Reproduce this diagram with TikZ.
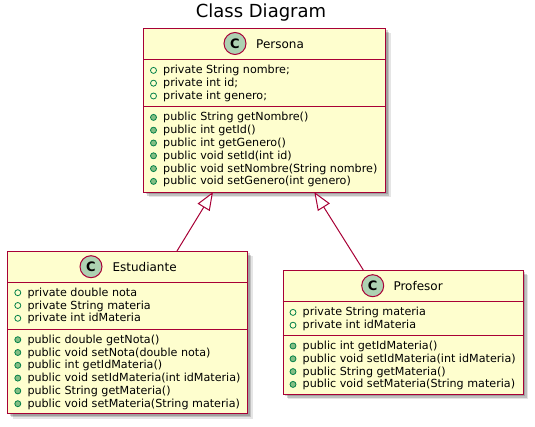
\documentclass[tikz,border=0pt]{standalone}
\usepackage{fontspec}
\setmainfont{DejaVu Sans}
\usetikzlibrary{arrows.meta,shadows}
\definecolor{umlred}{HTML}{A80036}
\definecolor{umlyellow}{HTML}{FEFECE}
\definecolor{badgegreen}{HTML}{ADD1B2}
\definecolor{mkgreen}{HTML}{038048}
\definecolor{mkfill}{HTML}{84BE84}
\tikzset{
  umlbox/.style={rectangle, draw=umlred, fill=umlyellow, line width=1pt, anchor=north west, inner sep=0pt,
    drop shadow={shadow xshift=2pt, shadow yshift=-2pt, opacity=0.16, fill=black},
    drop shadow={shadow xshift=3.5pt, shadow yshift=-3.5pt, opacity=0.16, fill=black},
    drop shadow={shadow xshift=5pt, shadow yshift=-5pt, opacity=0.10, fill=black}},
  sepline/.style={draw=umlred, line width=1pt},
  badge/.style={circle, draw=umlred, fill=badgegreen, line width=1pt, minimum size=22pt, inner sep=0pt, font=\bfseries\fontsize{13}{13}\selectfont},
  cname/.style={anchor=base west, inner sep=0pt, font=\fontsize{12}{14}\selectfont},
  memb/.style={anchor=base west, inner sep=0pt, font=\fontsize{11.15}{13}\selectfont},
  fieldmk/.style={circle, draw=mkgreen, line width=0.8pt, minimum size=6pt, inner sep=0pt},
  methmk/.style={fieldmk, fill=mkfill},
  inh/.style={draw=umlred, line width=1pt, -{Triangle[length=18pt, width=14pt, fill=white]}},
  ttl/.style={inner sep=0pt, anchor=base, font=\fontsize{18}{20}\selectfont}
}
\newcommand\umlfield[4]{\node[fieldmk] (#1m) at (#2,#3) {}; \node[memb] (#1) at (#2+9.5,#3+3.5) {#4};}
\newcommand\umlmeth[4]{\node[methmk] (#1m) at (#2,#3) {}; \node[memb] (#1) at (#2+9.5,#3+3.5) {#4};}
\begin{document}
\begin{tikzpicture}[x=1pt, y=-1pt]
\useasboundingbox[fill=white] (0,0) rectangle (535,427);

\node[ttl] (title) at (261,17.3) {Class Diagram};

% ---------------- Persona
\node[umlbox, minimum width=242pt, minimum height=164pt] (persona) at (143,28) {};
\draw[sepline] ([yshift=-32pt]persona.north west) -- ([yshift=-32pt]persona.north east);
\draw[sepline] ([yshift=-79pt]persona.north west) -- ([yshift=-79pt]persona.north east);
\node[badge] (perC) at (235,43.5) {C};
\node[cname] (perN) at (256,48.3) {Persona};
\umlfield{pa1}{153.5}{70.4}{private String nombre;}
\umlfield{pa2}{153.5}{83.2}{private int id;}
\umlfield{pa3}{153.5}{96.0}{private int genero;}
\umlmeth{pm1}{153.5}{117.4}{public String getNombre()}
\umlmeth{pm2}{153.5}{130.2}{public int getId()}
\umlmeth{pm3}{153.5}{143.0}{public int getGenero()}
\umlmeth{pm4}{153.5}{155.8}{public void setId(int id)}
\umlmeth{pm5}{153.5}{168.6}{public void setNombre(String nombre)}
\umlmeth{pm6}{153.5}{181.4}{public void setGenero(int genero)}

% ---------------- Estudiante
\node[umlbox, minimum width=240pt, minimum height=162pt] (estud) at (7.3,251) {};
\draw[sepline] ([yshift=-31.3pt]estud.north west) -- ([yshift=-31.3pt]estud.north east);
\draw[sepline] ([yshift=-78.3pt]estud.north west) -- ([yshift=-78.3pt]estud.north east);
\node[badge] (estC) at (91,266.7) {C};
\node[cname] (estN) at (112.3,271.7) {Estudiante};
\umlfield{ea1}{17.8}{292.7}{private double nota}
\umlfield{ea2}{17.8}{305.5}{private String materia}
\umlfield{ea3}{17.8}{318.3}{private int idMateria}
\umlmeth{em1}{17.8}{339.7}{public double getNota()}
\umlmeth{em2}{17.8}{352.5}{public void setNota(double nota)}
\umlmeth{em3}{17.8}{365.3}{public int getIdMateria()}
\umlmeth{em4}{17.8}{378.1}{public void setIdMateria(int idMateria)}
\umlmeth{em5}{17.8}{390.9}{public String getMateria()}
\umlmeth{em6}{17.8}{403.7}{public void setMateria(String materia)}

% ---------------- Profesor
\node[umlbox, minimum width=240pt, minimum height=123.5pt] (prof) at (282.5,270) {};
\draw[sepline] ([yshift=-32pt]prof.north west) -- ([yshift=-32pt]prof.north east);
\draw[sepline] ([yshift=-65.6pt]prof.north west) -- ([yshift=-65.6pt]prof.north east);
\node[badge] (proC) at (372.7,285.7) {C};
\node[cname] (proN) at (393.3,290.7) {Profesor};
\umlfield{qa1}{293}{312.4}{private String materia}
\umlfield{qa2}{293}{325.2}{private int idMateria}
\umlmeth{qm1}{293}{346.0}{public int getIdMateria()}
\umlmeth{qm2}{293}{358.8}{public void setIdMateria(int idMateria)}
\umlmeth{qm3}{293}{371.6}{public String getMateria()}
\umlmeth{qm4}{293}{384.4}{public void setMateria(String materia)}

% ---------------- inheritance
\coordinate (estTop) at (177,251);
\coordinate (perBotL) at (213,192);
\coordinate (proTop) at (363.3,270);
\coordinate (perBotR) at (314.3,192);
\draw[inh] (estTop) -- (perBotL);
\draw[inh] (proTop) -- (perBotR);
\end{tikzpicture}
\end{document}
